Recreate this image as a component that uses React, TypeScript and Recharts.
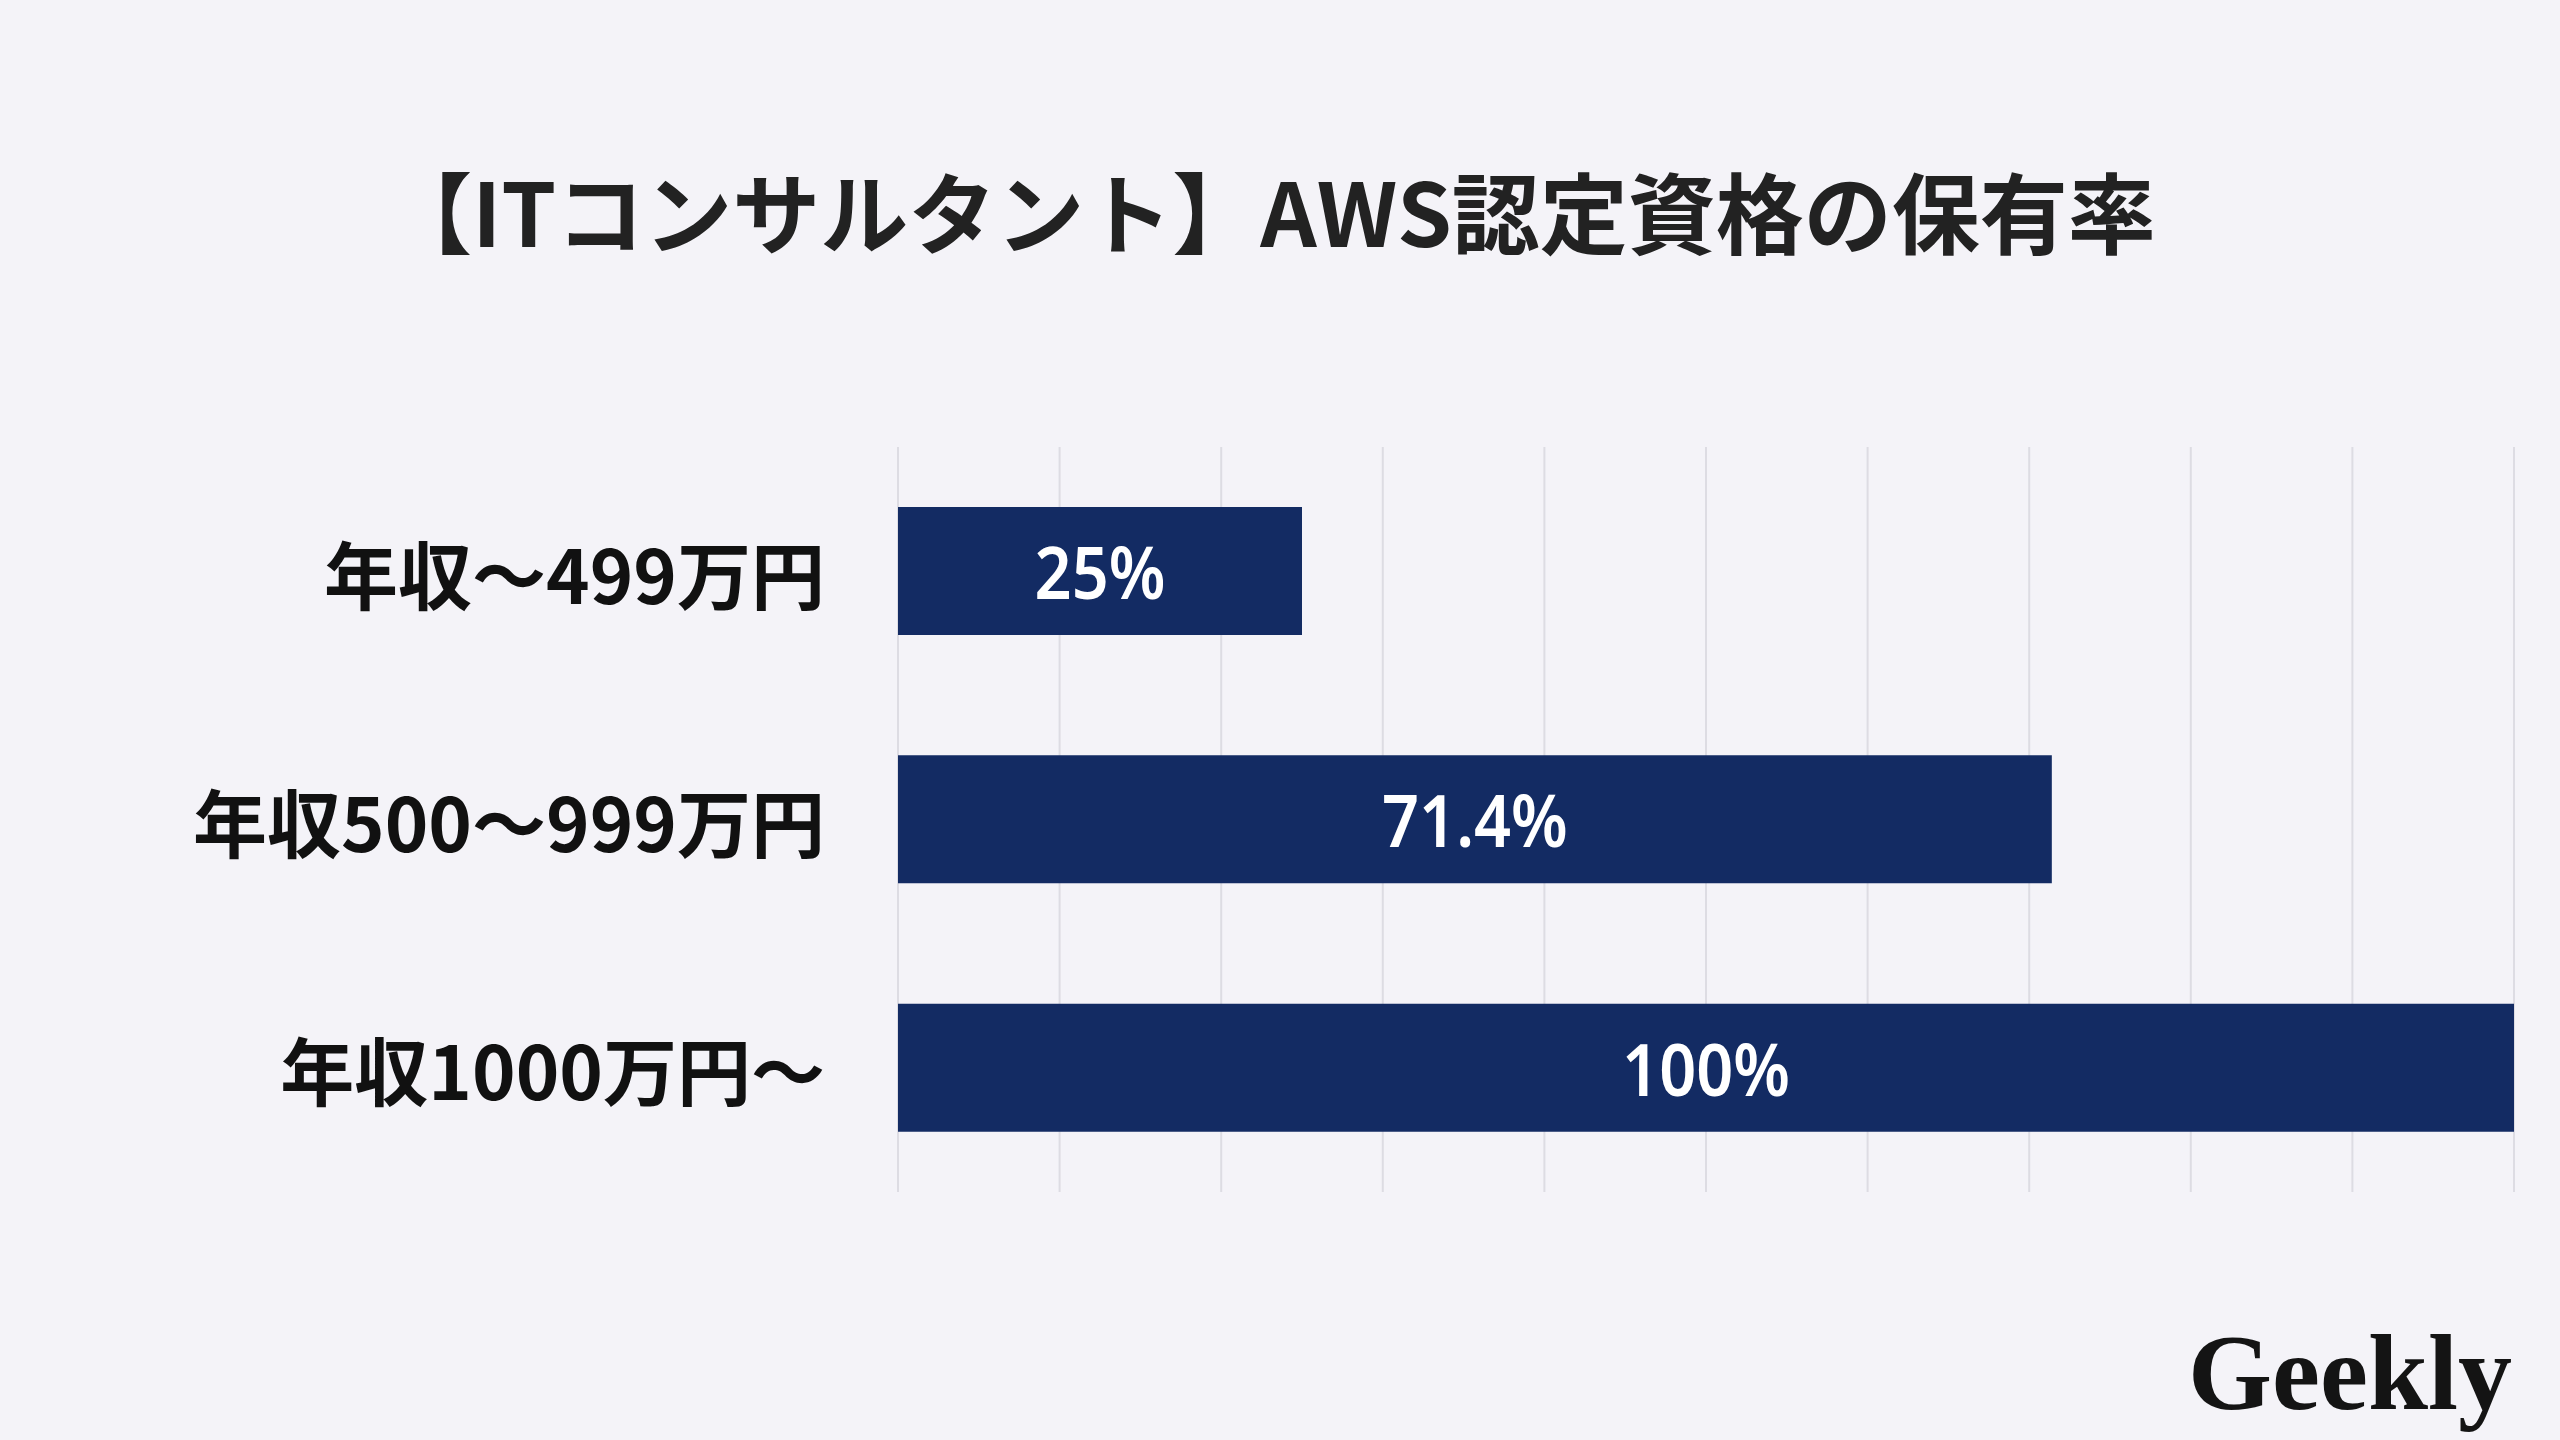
import { BarChart, Bar, XAxis, YAxis, CartesianGrid, LabelList } from 'recharts';

const categories = ['年収〜499万円', '年収500〜999万円', '年収1000万円〜'];
const rates = [25, 71.4, 100];
const xTicks = [0, 10, 20, 30, 40, 50, 60, 70, 80, 90, 100];

const TITLE = '【ITコンサルタント】AWS認定資格の保有率';

const BG = '#f4f3f8';
const BAR = '#132b63';
const GRID = '#dddce3';
const JP_FONT = '"Noto Sans CJK JP", "Noto Sans", sans-serif';

const chartData = categories.map((name, i) => ({ name, rate: rates[i] }));

// category label on the left, right aligned
const CategoryTick = (props: any) => {
  const { x, y, payload } = props;
  return (
    <text
      x={x}
      y={y}
      textAnchor="end"
      dominantBaseline="central"
      fontFamily={JP_FONT}
      fontWeight={700}
      fontSize={74}
      fill="#111111"
    >
      {payload.value}
    </text>
  );
};

// x axis has no visible labels, but ticks are still needed for the grid
const EmptyTick = () => <g />;

// white percentage in the middle of each bar, slightly condensed
const ValueLabel = (props: any) => {
  const { x, y, width, height, value } = props;
  const cx = x + width / 2;
  const cy = y + height / 2;
  return (
    <text
      transform={`translate(${cx}, ${cy}) scale(0.9, 1)`}
      x={0}
      y={0}
      textAnchor="middle"
      dominantBaseline="central"
      fontFamily='"Noto Sans", "Open Sans", sans-serif'
      fontWeight={600}
      fontSize={72}
      fill="#ffffff"
    >
      {`${value}%`}
    </text>
  );
};

export default function App() {
  return (
    <div
      style={{
        position: 'fixed',
        left: 0,
        top: 0,
        width: 2560,
        height: 1440,
        background: BG,
        overflow: 'hidden',
      }}
    >
      <div
        style={{
          position: 'absolute',
          left: 0,
          top: 154,
          width: 2540,
          textAlign: 'center',
          fontFamily: JP_FONT,
          fontWeight: 700,
          fontSize: 88,
          lineHeight: '110px',
          color: '#222222',
        }}
      >
        {TITLE}
      </div>

      <div style={{ position: 'absolute', left: 0, top: 0 }}>
        <BarChart
          width={2560}
          height={1440}
          data={chartData}
          layout="vertical"
          margin={{ top: 447, right: 46, bottom: 248, left: 0 }}
          barSize={128}
        >
          <CartesianGrid vertical={true} horizontal={false} stroke={GRID} strokeWidth={2} />
          <XAxis
            type="number"
            domain={[0, 100]}
            ticks={xTicks}
            interval={0}
            tick={<EmptyTick />}
            axisLine={false}
            tickLine={false}
            height={0}
          />
          <YAxis
            type="category"
            dataKey="name"
            width={898}
            axisLine={false}
            tickLine={false}
            tickSize={0}
            tickMargin={73}
            tick={<CategoryTick />}
          />
          <Bar dataKey="rate" fill={BAR} isAnimationActive={false}>
            <LabelList dataKey="rate" content={<ValueLabel />} />
          </Bar>
        </BarChart>
      </div>

      <div
        style={{
          position: 'absolute',
          left: 2188,
          top: 1313,
          fontFamily: '"Liberation Serif", "DejaVu Serif", serif',
          fontWeight: 700,
          fontSize: 108,
          lineHeight: '120px',
          color: '#141414',
        }}
      >
        Geekly
      </div>
    </div>
  );
}
